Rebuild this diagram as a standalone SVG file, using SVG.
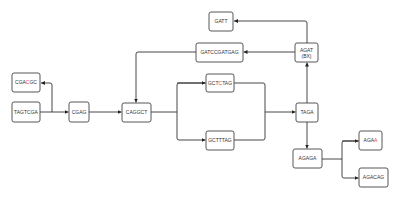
<svg xmlns="http://www.w3.org/2000/svg" width="400" height="200" viewBox="0 0 400 200">
<defs>
<marker id="ah" viewBox="0 0 6 6" refX="6" refY="3" markerWidth="4" markerHeight="4" orient="auto" markerUnits="userSpaceOnUse">
<path d="M0,0 L6,3 L0,6 Z" fill="#222"/>
</marker>
</defs>
<style>
.n rect{fill:#fff;stroke:#444;stroke-width:0.9}
.n text{font-family:"Liberation Sans",Arial,sans-serif;font-size:5px;fill:#333;text-anchor:middle}
.r{fill:#e0405a}
.c path{fill:none;stroke:#333;stroke-width:0.9}
.a{marker-end:url(#ah)}
</style>
<rect width="400" height="200" fill="#fff"/>
<g class="c">
<path d="M40,112 H68.5" class="a"/>
<path d="M52,112 V85 Q52,83 50,83 H41" class="a"/>
<path d="M89,112 H121.5" class="a"/>
<path d="M151,112 H177"/>
<path d="M205.5,83 H179 Q177,83 177,85 V138 Q177,140 179,140 H205.5" class="a"/>
<path d="M177,83 H205.5" class="a"/>
<path d="M234,83 H263 Q265,83 265,85 V138 Q265,140 263,140 H234"/>
<path d="M265,112 H295.5" class="a"/>
<path d="M307,103 V62.5" class="a"/>
<path d="M307,122 V148.5" class="a"/>
<path d="M307,43 V23 Q307,21 305,21 H234" class="a"/>
<path d="M295,52 H243.5" class="a"/>
<path d="M196,52 H138 Q136,52 136,54 V102.5" class="a"/>
<path d="M322,159 H342"/>
<path d="M358.5,141 H344 Q342,141 342,143 V176 Q342,178 344,178 H358.5" class="a"/>
<path d="M342,141 H358.5" class="a"/>
</g>
<g id="n-cgacgc" class="n"><rect x="12" y="73" width="28" height="19" rx="2"/><text x="26" y="84.3">CGA<tspan class="r">C</tspan>GC</text></g>
<g id="n-tagtcga" class="n"><rect x="12" y="102" width="28" height="20" rx="2"/><text x="26" y="113.8">TAGTCGA</text></g>
<g id="n-cgag" class="n"><rect x="69" y="102" width="20" height="20" rx="2"/><text x="79" y="113.8">CGAG</text></g>
<g id="n-caggct" class="n"><rect x="122" y="103" width="29" height="19" rx="2"/><text x="136.5" y="114.3">CAGGCT</text></g>
<g id="n-gctctag" class="n"><rect x="206" y="74" width="28" height="18" rx="2"/><text x="220" y="84.8">GCT<tspan class="r">C</tspan>TAG</text></g>
<g id="n-gctttag" class="n"><rect x="206" y="131" width="28" height="19" rx="2"/><text x="220" y="142.3">GCTTTAG</text></g>
<g id="n-taga" class="n"><rect x="296" y="103" width="22" height="19" rx="2"/><text x="307" y="114.3">TAGA</text></g>
<g id="n-agat" class="n"><rect x="295" y="43" width="23" height="19" rx="2"/><text x="306.5" y="51.5">AGAT</text><text x="306.5" y="58">(BX)</text></g>
<g id="n-gatt" class="n"><rect x="209" y="12" width="24" height="19" rx="2"/><text x="221" y="23.3">GATT</text></g>
<g id="n-gatccgatgag" class="n"><rect x="196" y="43" width="47" height="19" rx="2"/><text x="219.5" y="54.3">GATCCGATGAG</text></g>
<g id="n-agaga" class="n"><rect x="293" y="149" width="29" height="19" rx="2"/><text x="307.5" y="160.3">AGAGA</text></g>
<g id="n-agaa" class="n"><rect x="359" y="131" width="23" height="19" rx="2"/><text x="370.5" y="142.3">AGA<tspan class="r">A</tspan></text></g>
<g id="n-agacag" class="n"><rect x="359" y="168" width="29" height="19" rx="2"/><text x="373.5" y="179.3">AGACAG</text></g>
</svg>
